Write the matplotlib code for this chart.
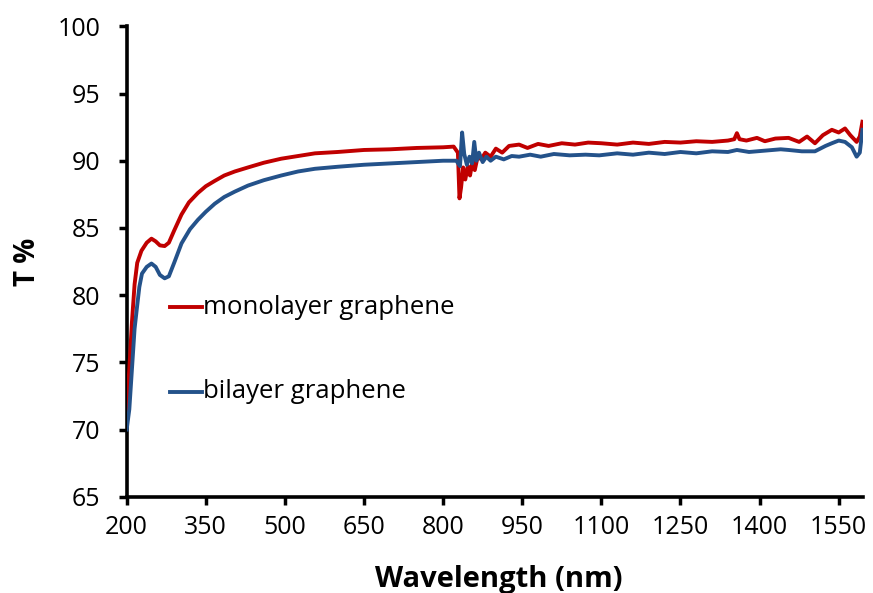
import numpy as np
import matplotlib
matplotlib.use('Agg')
import matplotlib.pyplot as plt

# transmittance spectra
wl_mono = [200, 205, 210, 215, 220, 228, 238, 247, 255, 263, 272, 280, 290, 304, 318, 335, 350, 367, 385, 405,
           430, 460, 493, 525, 557, 600, 650, 700, 750, 800, 820, 828, 831, 834, 838, 842, 847, 851, 856, 860,
           866, 872, 880, 890, 900, 912, 925, 944, 960, 980, 1000, 1025, 1050, 1075, 1100, 1130, 1160, 1190, 1220, 1250,
           1280, 1310, 1340, 1352, 1357, 1362, 1375, 1395, 1410, 1430, 1455, 1475, 1490, 1505, 1520, 1537, 1550, 1562, 1572, 1584,
           1590, 1595]
T_mono = [71.4, 74.5, 78.0, 80.8, 82.4, 83.3, 83.9, 84.2, 84.0, 83.7, 83.65, 83.9, 84.8, 86.0, 86.9, 87.6, 88.1, 88.5, 88.9, 89.2,
          89.5, 89.85, 90.15, 90.35, 90.55, 90.65, 90.8, 90.85, 90.95, 91.0, 91.05, 90.6, 87.2, 88.0, 89.5, 88.6, 89.6, 88.9, 90.0, 89.3,
          90.4, 90.1, 90.6, 90.3, 90.9, 90.6, 91.1, 91.2, 90.95, 91.25, 91.1, 91.3, 91.2, 91.35, 91.3, 91.2, 91.35, 91.25, 91.4, 91.35,
          91.45, 91.4, 91.5, 91.6, 92.05, 91.6, 91.5, 91.7, 91.45, 91.65, 91.7, 91.4, 91.8, 91.3, 91.9, 92.3, 92.1, 92.4, 91.9, 91.4,
          91.8, 92.9]

wl_bi = [200, 205, 210, 215, 219, 224, 229, 238, 247, 255, 263, 272, 280, 290, 304, 320, 335, 350, 367, 385,
         405, 430, 460, 493, 525, 557, 600, 650, 700, 750, 800, 825, 832, 836, 840, 845, 850, 855, 859, 863,
         868, 875, 882, 890, 900, 915, 930, 944, 965, 985, 1010, 1040, 1070, 1096, 1130, 1160, 1190, 1220, 1250, 1280,
         1310, 1340, 1357, 1380, 1410, 1440, 1455, 1480, 1505, 1525, 1537, 1550, 1562, 1575, 1584, 1590, 1595]
T_bi = [70.0, 71.5, 74.5, 77.5, 78.9, 80.6, 81.6, 82.1, 82.35, 82.1, 81.5, 81.25, 81.4, 82.4, 83.85, 84.9, 85.6, 86.2, 86.8, 87.3,
        87.7, 88.15, 88.55, 88.9, 89.2, 89.4, 89.55, 89.7, 89.8, 89.9, 90.0, 90.0, 89.6, 92.1, 90.5, 89.7, 90.3, 89.8, 91.4, 90.0,
        90.6, 89.9, 90.3, 90.0, 90.3, 90.1, 90.35, 90.3, 90.45, 90.3, 90.5, 90.4, 90.45, 90.4, 90.55, 90.45, 90.6, 90.5, 90.65, 90.55,
        90.7, 90.65, 90.8, 90.65, 90.75, 90.85, 90.8, 90.7, 90.7, 91.1, 91.3, 91.5, 91.4, 91.0, 90.3, 90.6, 92.3]

xticks = [200, 350, 500, 650, 800, 950, 1100, 1250, 1400, 1550]
yticks = [65, 70, 75, 80, 85, 90, 95, 100]

red = '#C00000'
blue = '#24528A'

plt.rcParams['font.family'] = ['Open Sans', 'DejaVu Sans']

fig = plt.figure(figsize=(8.73, 5.93), dpi=100)
ax = fig.add_axes([0.1451, 0.1624, 0.9885 - 0.1451, 0.9556 - 0.1624])

ax.plot(wl_mono, T_mono, color=red, lw=2.8, zorder=3)
ax.plot(wl_bi, T_bi, color=blue, lw=2.8, zorder=3)

ax.set_xlim(200, 1596)
ax.set_ylim(65, 100)
ax.set_xticks(xticks)
ax.set_yticks(yticks)
ax.tick_params(axis='both', direction='out', length=6, width=2.5, labelsize=18, colors='black')
ax.tick_params(axis='y', pad=13)
ax.tick_params(axis='x', pad=7)

for s in ['top', 'right']:
    ax.spines[s].set_visible(False)
for s in ['left', 'bottom']:
    ax.spines[s].set_linewidth(2.6)

ax.set_xlabel('Wavelength (nm)', fontsize=21, fontweight='bold')
ax.set_ylabel('T %', fontsize=20, fontweight='bold')
ax.xaxis.set_label_coords(0.505, -0.145)
ax.yaxis.set_label_coords(-0.115, 0.5)

# hand-placed legend like the original
ax.plot([282, 342], [79.1, 79.1], color=red, lw=2.8)
ax.text(344, 79.1, 'monolayer graphene', fontsize=18.5, va='center', ha='left')
ax.plot([282, 342], [72.8, 72.8], color=blue, lw=2.8)
ax.text(344, 72.8, 'bilayer graphene', fontsize=18.5, va='center', ha='left')

fig.savefig('out.png', dpi=100)
